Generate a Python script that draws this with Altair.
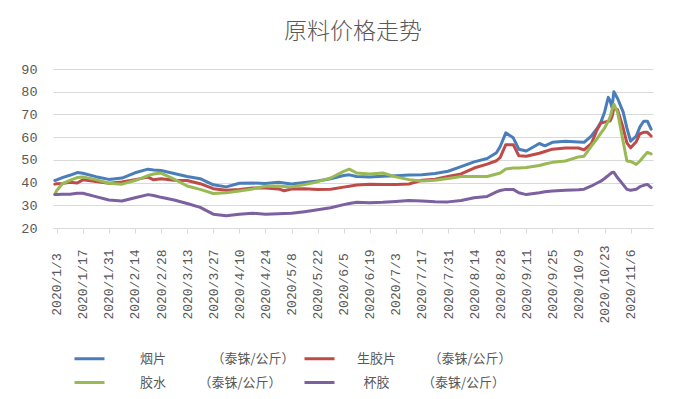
import altair as alt
import pandas as pd

dates = [
    "2020-01-02", "2020-01-03", "2020-01-06", "2020-01-10", "2020-01-14", "2020-01-17", "2020-01-24", "2020-01-31",
    "2020-02-07", "2020-02-14", "2020-02-21", "2020-02-24", "2020-02-28",
    "2020-03-06", "2020-03-13", "2020-03-20", "2020-03-27",
    "2020-04-03", "2020-04-10", "2020-04-17", "2020-04-24",
    "2020-05-01", "2020-05-04", "2020-05-08", "2020-05-15", "2020-05-22", "2020-05-29",
    "2020-06-05", "2020-06-08", "2020-06-12", "2020-06-19", "2020-06-26",
    "2020-07-03", "2020-07-10", "2020-07-17", "2020-07-24", "2020-07-31",
    "2020-08-07", "2020-08-14", "2020-08-21", "2020-08-26", "2020-08-28", "2020-08-31",
    "2020-09-04", "2020-09-07", "2020-09-11", "2020-09-18", "2020-09-21", "2020-09-25",
    "2020-10-02", "2020-10-09", "2020-10-12", "2020-10-16", "2020-10-19", "2020-10-21", "2020-10-23",
    "2020-10-25", "2020-10-26", "2020-10-27", "2020-10-28", "2020-10-30",
    "2020-11-02", "2020-11-04", "2020-11-06", "2020-11-09", "2020-11-11", "2020-11-13", "2020-11-15", "2020-11-17",
]

yanpian = [
    40.9, 41.2, 42.2, 43.2, 44.4, 44.1, 42.6, 41.4,
    42.0, 44.3, 45.9, 45.5, 45.3,
    44.0, 42.7, 41.7, 39.0,
    38.1, 39.7, 39.8, 39.6,
    40.1, 39.8, 39.4, 40.0, 40.7, 41.7,
    43.1, 43.4, 42.7, 42.5, 42.8,
    43.0, 43.3, 43.4, 44.0, 45.0,
    47.0, 49.1, 50.6, 53.1, 55.9, 61.9,
    59.7, 54.7, 53.9, 57.2, 56.2, 57.7,
    58.2, 57.9, 57.7, 60.6, 63.8, 66.5, 71.0, 77.5, 76.0, 73.0, 80.0, 77.0,
    71.0, 64.0, 58.2, 60.5, 64.5, 67.0, 67.0, 63.5,
]

shengjiaopian = [
    39.3, 39.5, 39.6, 40.1, 39.8, 41.2, 40.5, 39.7,
    40.3, 41.3, 42.4, 41.2, 41.7,
    41.0, 40.9, 39.5, 37.3,
    36.6, 36.9, 37.6, 37.6,
    37.2, 36.4, 37.2, 37.3, 36.9, 37.1,
    38.0, 38.4, 38.9, 39.3, 39.1,
    39.2, 39.4, 41.0, 41.5, 42.7,
    43.8, 46.4, 48.1, 49.6, 51.1, 56.7,
    56.7, 51.8, 51.6, 52.9, 53.7, 54.7,
    55.2, 55.2, 54.4, 57.3, 63.3, 66.2, 66.6, 67.0, 67.1, 69.0, 72.9, 72.0,
    64.0, 57.5, 55.3, 58.0, 61.5, 62.1, 62.1, 60.5,
]

jiaoshui = [
    34.8, 36.5, 39.4, 41.0, 42.2, 42.5, 41.3, 39.7,
    39.3, 40.9, 43.1, 43.8, 44.2,
    41.5, 38.5, 37.0, 35.2,
    35.5, 36.3, 37.2, 38.4,
    38.5, 38.3, 38.1, 39.1, 40.4, 42.0,
    44.9, 45.9, 44.2, 43.8, 44.2,
    42.5, 41.3, 40.7, 41.0, 41.8,
    42.7, 42.7, 42.7, 43.8, 44.2, 46.0,
    46.4, 46.4, 46.6, 47.5, 48.2, 48.9,
    49.5, 51.3, 51.6, 56.2, 59.3, 61.8, 64.0, 67.0, 69.0, 72.0, 74.5, 71.0,
    58.0, 49.5, 49.3, 48.0, 49.5, 51.5, 53.3, 52.6,
]

beijiao = [
    34.7, 34.7, 34.9, 34.9, 35.3, 35.3, 33.8, 32.3,
    31.9, 33.3, 34.7, 34.3, 33.5,
    32.3, 30.8, 29.1, 26.1,
    25.4, 26.1, 26.5, 26.1,
    26.3, 26.4, 26.5, 27.2, 28.0, 28.9,
    30.3, 30.8, 31.3, 31.1, 31.3,
    31.7, 32.1, 31.9, 31.6, 31.5,
    32.1, 33.3, 33.9, 35.9, 36.5, 37.0,
    37.0, 35.5, 34.7, 35.5, 36.0, 36.3,
    36.6, 36.8, 37.1, 38.5, 39.8, 40.6, 41.8, 43.1, 43.8, 44.4, 44.5, 42.1,
    39.1, 37.0, 36.6, 37.1, 38.2, 38.8, 39.2, 37.8,
]

series_labels = [
    "\u200b\u3000烟片\u3000\u3000\u3000\u3000（泰铢/公斤）",
    "生胶片\u3000\u3000\u2002（泰铢/公斤）",
    "\u200b\u3000胶水\u3000\u3000\u3000（泰铢/公斤）",
    "\u200b\u2002杯胶\u3000\u3000\u2002（泰铢/公斤）",
]
colors = ["#4A7EBB", "#BE4B48", "#98B954", "#7D60A0"]

tick_dates = [
    (1, 3), (1, 17), (1, 31), (2, 14), (2, 28), (3, 13), (3, 27), (4, 10), (4, 24),
    (5, 8), (5, 22), (6, 5), (6, 19), (7, 3), (7, 17), (7, 31), (8, 14), (8, 28),
    (9, 11), (9, 25), (10, 9), (10, 23), (11, 6),
]
y_ticks = [20, 30, 40, 50, 60, 70, 80, 90]

rows = []
for label, vals in zip(series_labels, [yanpian, shengjiaopian, jiaoshui, beijiao]):
    for d, v in zip(dates, vals):
        rows.append({"date": d + "T00:00:00", "value": v, "series": label})
df = pd.DataFrame(rows)

grey = "#595959"

chart = (
    alt.Chart(df)
    .mark_line(strokeWidth=3, strokeJoin="round", strokeCap="round")
    .encode(
        x=alt.X(
            "date:T",
            scale=alt.Scale(domain=[alt.DateTime(year=2020, month=1, date=1),
                                    alt.DateTime(year=2020, month=11, date=18)]),
            axis=alt.Axis(
                values=[alt.DateTime(year=2020, month=m, date=d) for m, d in tick_dates],
                format="%Y/%-m/%-d",
                labelAngle=-90,
                labelAlign="center",
                labelBaseline="middle",
                labelPadding=51,
                labelFont="Liberation Mono",
                labelFontSize=13,
                labelColor=grey,
                labelOverlap=False,
                grid=False,
                domainColor="#D9D9D9",
                tickColor="#D9D9D9",
                tickSize=5,
                title=None,
            ),
        ),
        y=alt.Y(
            "value:Q",
            scale=alt.Scale(domain=[20, 90], nice=False, zero=False),
            axis=alt.Axis(
                values=y_ticks,
                grid=True,
                gridColor="#D9D9D9",
                domain=False,
                ticks=False,
                labelPadding=16,
                labelFont="Liberation Mono",
                labelFontSize=13.5,
                labelColor=grey,
                title=None,
            ),
        ),
        color=alt.Color(
            "series:N",
            scale=alt.Scale(domain=series_labels, range=colors),
            sort=series_labels,
            legend=alt.Legend(
                title=None,
                orient="none",
                direction="horizontal",
                legendX=20,
                legendY=273,
                columns=2,
                symbolType="stroke",
                symbolSize=900,
                symbolStrokeWidth=3,
                labelOffset=21,
                labelFont="Noto Sans CJK SC",
                labelFontSize=13,
                labelColor=grey,
                labelLimit=400,
                rowPadding=-2,
                columnPadding=3,
            ),
        ),
    )
    .properties(
        width=600,
        height=159,
        title=alt.TitleParams(
            "原料价格走势",
            font="Noto Sans CJK SC",
            fontSize=23,
            fontWeight=300,
            color=grey,
            anchor="middle",
            offset=18,
        ),
        padding={"left": 12, "top": 13, "right": 10, "bottom": 5},
    )
    .configure_view(stroke=None)
)

chart.save("out.html", embed_options={"renderer": "svg", "actions": False})
